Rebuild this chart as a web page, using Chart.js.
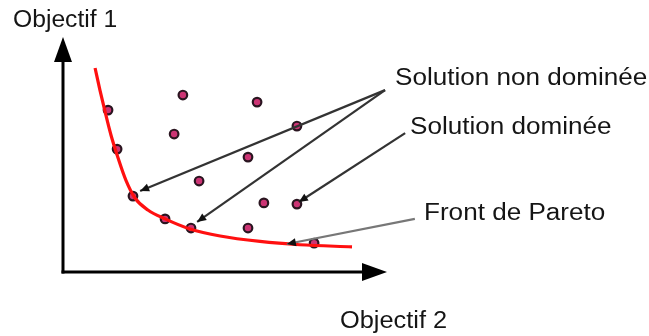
<!DOCTYPE html>
<html>
<head>
<meta charset="utf-8">
<script src="https://cdn.jsdelivr.net/npm/chart.js@4.4.1/dist/chart.umd.min.js"></script>
<style>
  body { margin: 0; background: #fff; }
</style>
</head>
<body>
<canvas id="pareto-chart" width="649" height="336"></canvas>
<script>
// front de Pareto (courbe rouge)
const curveX = [9.9, 11.4, 13.0, 14.8, 17.0, 19.4, 22.2, 26.2, 31.5, 39.2, 48.5, 60.8, 73.1, 89.2];
const curveY = [86.8, 77.4, 68.1, 58.3, 48.5, 39.1, 31.5, 26.4, 22.6, 18.3, 15.3, 13.0, 11.6, 10.7];

// solutions non dominées (sur la courbe)
const frontX = [13.9, 16.7, 21.6, 31.5, 39.5, 77.5];
const frontY = [68.9, 52.3, 32.3, 22.6, 18.7, 12.3];

// solutions dominées
const otherX = [37.0, 59.9, 34.3, 72.2, 57.1, 42.0, 62.0, 72.2, 57.1];
const otherY = [75.3, 72.3, 58.7, 62.1, 48.9, 38.7, 29.4, 28.9, 18.7];

// annotation arrows, in data units: [fromX, fromY, toX, toY]
const arrowLines = [
  [99.4, 77.4, 23.8, 34.5],
  [99.4, 77.4, 41.4, 21.3],
  [105.6, 59.1, 72.8, 29.8],
  [108.6, 22.6, 69.1, 11.9]
];
const arrowColors = ['#333', '#333', '#333', '#777'];

const labelTexts = ['Objectif 1', 'Solution non dominée', 'Solution dominée', 'Front de Pareto', 'Objectif 2'];
const labelPos = [[13, 27], [395, 85], [410, 134], [424, 220], [340, 328]];
const labelStretch = [1.05, 1.11, 1.11, 1.11, 1.08];

const toPoints = (xs, ys) => xs.map((x, i) => ({ x, y: ys[i] }));

const drawHead = (ctx, x1, y1, x2, y2, len, half) => {
  const a = Math.atan2(y2 - y1, x2 - x1);
  ctx.beginPath();
  ctx.moveTo(x2, y2);
  ctx.lineTo(x2 - len * Math.cos(a) + half * Math.sin(a), y2 - len * Math.sin(a) - half * Math.cos(a));
  ctx.lineTo(x2 - len * Math.cos(a) - half * Math.sin(a), y2 - len * Math.sin(a) + half * Math.cos(a));
  ctx.closePath();
  ctx.fill();
};

const decorations = {
  id: 'decorations',
  beforeDatasetsDraw(chart) {
    const { ctx, chartArea: a } = chart;
    ctx.save();
    ctx.strokeStyle = '#000';
    ctx.fillStyle = '#000';
    ctx.lineWidth = 3;
    // axe vertical
    ctx.beginPath();
    ctx.moveTo(a.left, a.bottom + 1.5);
    ctx.lineTo(a.left, a.top + 20);
    ctx.stroke();
    drawHead(ctx, a.left, a.bottom, a.left, a.top, 25, 9);
    // axe horizontal
    ctx.beginPath();
    ctx.moveTo(a.left - 1.5, a.bottom);
    ctx.lineTo(a.right - 20, a.bottom);
    ctx.stroke();
    drawHead(ctx, a.left, a.bottom, a.right, a.bottom, 25, 9);
    ctx.restore();
  },
  afterDatasetsDraw(chart) {
    const { ctx } = chart;
    const xs = chart.scales.x, ys = chart.scales.y;
    ctx.save();
    arrowLines.forEach((l, i) => {
      const x1 = xs.getPixelForValue(l[0]), y1 = ys.getPixelForValue(l[1]);
      const x2 = xs.getPixelForValue(l[2]), y2 = ys.getPixelForValue(l[3]);
      ctx.strokeStyle = arrowColors[i];
      ctx.fillStyle = '#111';
      ctx.lineWidth = 2.2;
      ctx.beginPath();
      ctx.moveTo(x1, y1);
      ctx.lineTo(x2, y2);
      ctx.stroke();
      drawHead(ctx, x1, y1, x2, y2, 9, 4);
    });
    ctx.fillStyle = '#151515';
    ctx.font = '23.5px "Liberation Sans", Arial, sans-serif';
    ctx.textBaseline = 'alphabetic';
    labelTexts.forEach((t, i) => {
      ctx.save();
      ctx.translate(labelPos[i][0], labelPos[i][1]);
      ctx.scale(labelStretch[i], 1);
      ctx.fillText(t, 0, 0);
      ctx.restore();
    });
    ctx.restore();
  }
};

const dotStyle = {
  showLine: false,
  pointRadius: 4.3,
  pointBorderWidth: 2.2,
  pointBorderColor: '#2a1520',
  pointBackgroundColor: '#cc3474'
};

new Chart(document.getElementById('pareto-chart'), {
  type: 'scatter',
  data: {
    datasets: [
      {
        label: 'Front de Pareto',
        data: toPoints(curveX, curveY),
        showLine: true,
        borderColor: '#ff1010',
        borderWidth: 3.2,
        pointRadius: 0,
        cubicInterpolationMode: 'monotone'
      },
      { label: 'Solution non dominée', data: toPoints(frontX, frontY), ...dotStyle },
      { label: 'Solution dominée', data: toPoints(otherX, otherY), ...dotStyle }
    ]
  },
  options: {
    responsive: false,
    animation: false,
    layout: { padding: { left: 63, right: 262, top: 37, bottom: 64 } },
    scales: {
      x: { display: false, min: 0, max: 100 },
      y: { display: false, min: 0, max: 100 }
    },
    plugins: {
      legend: { display: false },
      tooltip: { enabled: false }
    },
    clip: false
  },
  plugins: [decorations]
});
</script>
</body>
</html>
